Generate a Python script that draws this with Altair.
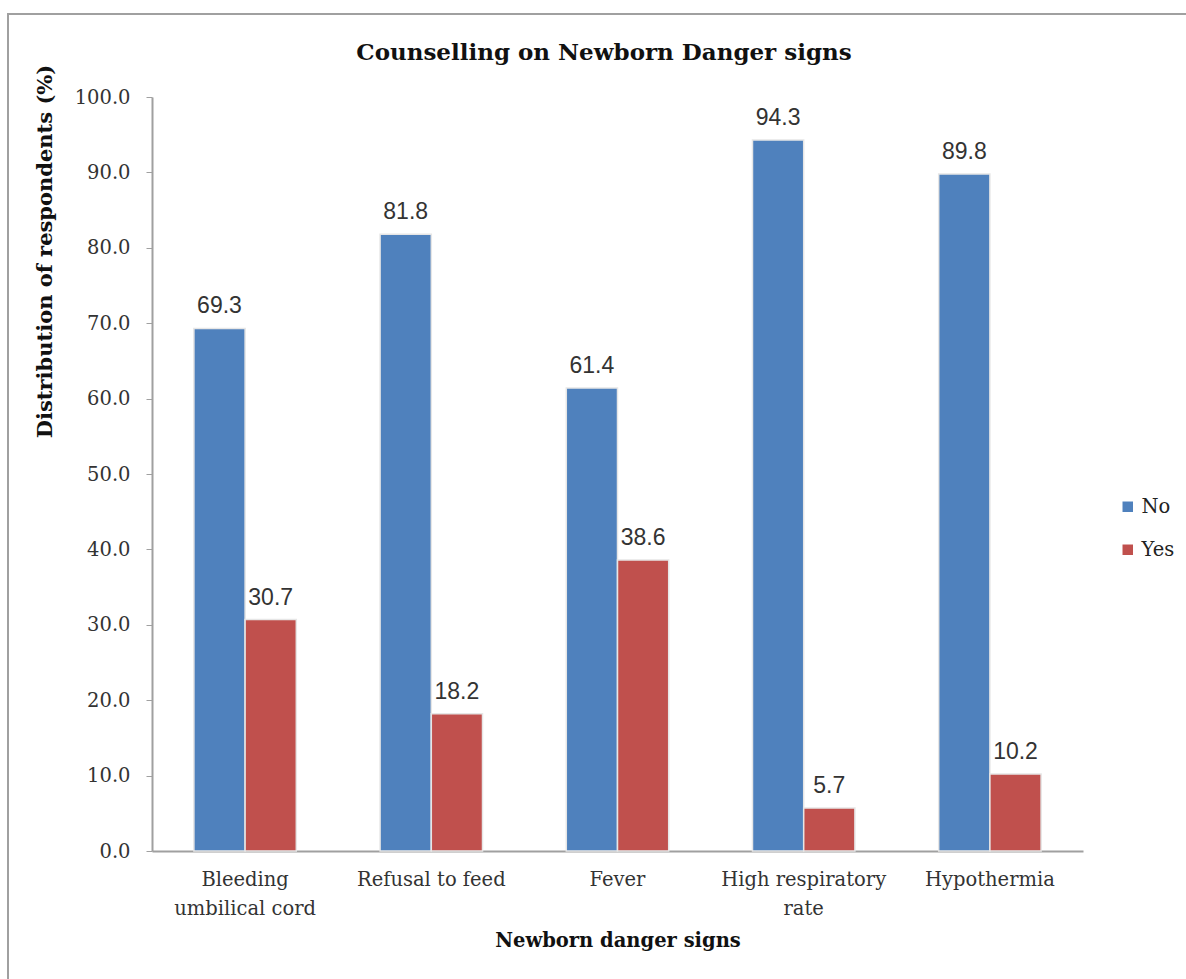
import altair as alt
import pandas as pd

categories = ["Bleeding umbilical cord", "Refusal to feed", "Fever", "High respiratory rate", "Hypothermia"]
label_lines = ["Bleeding|umbilical cord", "Refusal to feed", "Fever", "High respiratory|rate", "Hypothermia"]
no_values = [69.3, 81.8, 61.4, 94.3, 89.8]
yes_values = [30.7, 18.2, 38.6, 5.7, 10.2]
groups = ["No", "Yes"]
colors = ["#4F81BD", "#C0504D"]
title_text = "Counselling on Newborn Danger signs"

rows = []
for c, lab, n, y in zip(categories, label_lines, no_values, yes_values):
    rows.append({"sign": lab, "group": "No", "value": n})
    rows.append({"sign": lab, "group": "Yes", "value": y})
df = pd.DataFrame(rows)

serif = "DejaVu Serif"
sans = "Liberation Sans"

x_enc = alt.X("sign:N", sort=label_lines,
              scale=alt.Scale(paddingInner=0.45, paddingOuter=0.225),
              axis=alt.Axis(title="Newborn danger signs", labelAngle=0, ticks=False,
                            labelExpr="split(datum.label, '|')",
                            labelFont=serif, labelFontSize=19.5, labelColor="#333333",
                            labelPadding=19, labelLineHeight=29,
                            titleFont=serif, titleFontSize=19.5, titleFontWeight="bold",
                            titleColor="#111111", titlePadding=14,
                            domainColor="#A0A0A0", domainWidth=2))
y_enc = alt.Y("value:Q", scale=alt.Scale(domain=[0, 100], nice=False),
              axis=alt.Axis(title="Distribution of respondents (%)", values=list(range(0, 101, 10)),
                            format=".1f", grid=False, tickSize=6, tickColor="#A0A0A0",
                            domainColor="#A0A0A0", domainWidth=2, labelPadding=16,
                            labelFont=serif, labelFontSize=19.5, labelColor="#333333",
                            titleFont=serif, titleFontSize=21, titleFontWeight="bold",
                            titleColor="#111111", titleAngle=270, titleX=-107, titleY=154,
                            titleAlign="center", titleBaseline="middle"))

color_enc = alt.Color("group:N", scale=alt.Scale(domain=groups, range=colors),
                      legend=alt.Legend(title=None, orient="none", legendX=966, legendY=400,
                                        symbolType="square", symbolSize=110,
                                        labelFont=serif, labelFontSize=19.5, labelColor="#222222",
                                        rowPadding=22, symbolStrokeWidth=0))

bars = alt.Chart(df).mark_bar(stroke="#E6E6E6", strokeWidth=1.5).encode(
    x=x_enc, xOffset=alt.XOffset("group:N", sort=groups), y=y_enc, color=color_enc
)
labels = alt.Chart(df).mark_text(baseline="alphabetic", dy=-15, font=sans, fontSize=23, color="#333333").encode(
    x=alt.X("sign:N", sort=label_lines), xOffset=alt.XOffset("group:N", sort=groups),
    y="value:Q", text=alt.Text("value:Q", format=".1f")
)
frame = alt.Chart(pd.DataFrame({"a": [0]})).mark_rect(fillOpacity=0, stroke="#A0A0A0", strokeWidth=2).encode(
    x=alt.value(-144), x2=alt.value(1100), y=alt.value(-83), y2=alt.value(950)
)
title = alt.Chart(pd.DataFrame({"t": [title_text]})).mark_text(
    font=serif, fontSize=23, fontWeight="bold", color="#111111", align="center", baseline="middle"
).encode(x=alt.value(452), y=alt.value(-44), text="t:N")

chart = alt.layer(frame, bars, labels, title).properties(
    width=931, height=754,
    background="white",
    autosize=alt.AutoSizeParams(type="none"),
    padding={"left": 152, "top": 97, "right": 103, "bottom": 128},
).configure_view(strokeWidth=0, stroke="transparent")

chart.save("out.html", embed_options={"renderer": "svg", "actions": False})
